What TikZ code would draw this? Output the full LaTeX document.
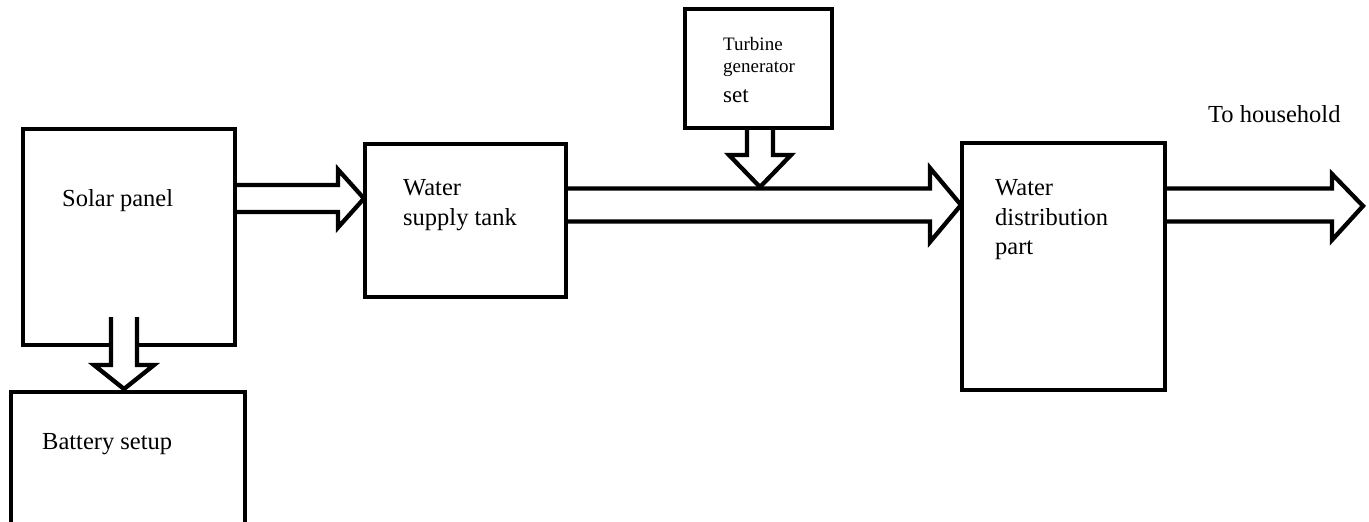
\documentclass[tikz,border=0pt]{standalone}
\usepackage{fontspec}
\setmainfont{Liberation Serif}
\begin{document}
\begin{tikzpicture}[x=1pt,y=-1pt,
  box/.style={draw=black,line width=4.3pt,fill=white,inner sep=0pt,outer sep=0pt},
  lbl/.style={inner sep=0pt,anchor=base west,font=\fontsize{24.5}{30}\selectfont},
  small/.style={inner sep=0pt,anchor=base west,font=\fontsize{19}{22}\selectfont},
  arrline/.style={draw=black,line width=4.3pt,line join=miter},
  arrfill/.style={fill=white}]
\useasboundingbox (0,0) rectangle (1369,522);

% boxes
\node[box,minimum width=212pt,minimum height=216pt] (solar) at (129,237) {};
\node[box,minimum width=234pt,minimum height=160pt] (battery) at (128,472) {};
\node[box,minimum width=201pt,minimum height=153pt] (tank) at (465.5,220.5) {};
\node[box,minimum width=147pt,minimum height=119pt] (turbine) at (758.5,68.5) {};
\node[box,minimum width=203pt,minimum height=247pt] (dist) at (1063.5,266.5) {};

% texts
\node[lbl] (tsolar) at (62,206) {Solar panel};
\node[lbl] (tbatt) at (42,449) {Battery setup};
\node[lbl] (ttank1) at (403,195) {Water};
\node[lbl] (ttank2) at (403,225) {supply tank};
\node[small] (tturb1) at (723,50) {Turbine};
\node[small] (tturb2) at (723,72) {generator};
\node[lbl,font=\fontsize{23}{28}\selectfont] (tturb3) at (723,102) {set};
\node[lbl] (tdist1) at (995,195) {Water};
\node[lbl] (tdist2) at (995,225) {distribution};
\node[lbl] (tdist3) at (995,254) {part};
\node[lbl] (thouse) at (1208,122) {To household};

% block arrow: solar -> tank
\fill[arrfill] (237,185) -- (338,185) -- (338,169.5) -- (363,198.5) -- (338,227.5) -- (338,212) -- (237,212) -- cycle;
\draw[arrline] (235,185) -- (338,185) -- (338,169.5) -- (364,198.5) -- (338,227.5) -- (338,212) -- (235,212);

% block arrow: solar -> battery
\fill[arrfill] (111,317) -- (111,365) -- (94,365) -- (124,388) -- (154,365) -- (137,365) -- (137,317) -- cycle;
\draw[arrline] (111,317) -- (111,365) -- (94,365) -- (124,389) -- (154,365) -- (137,365) -- (137,317);

% block arrow: tank -> distribution
\fill[arrfill] (568,188.5) -- (930,188.5) -- (930,168) -- (960,205) -- (930,242) -- (930,221.5) -- (568,221.5) -- cycle;
\draw[arrline] (566,188.5) -- (930,188.5) -- (930,168) -- (961,205) -- (930,242) -- (930,221.5) -- (566,221.5);

% block arrow: turbine -> main flow
\fill[arrfill] (747,130) -- (747,155) -- (729,155) -- (760,186) -- (791,155) -- (773,155) -- (773,130) -- cycle;
\draw[arrline] (747,128) -- (747,155) -- (729,155) -- (760,187) -- (791,155) -- (773,155) -- (773,128);

% block arrow: distribution -> household
\fill[arrfill] (1167,188.5) -- (1332,188.5) -- (1332,174) -- (1363,205) -- (1332,240) -- (1332,221.5) -- (1167,221.5) -- cycle;
\draw[arrline] (1165,188.5) -- (1332,188.5) -- (1332,174) -- (1363,206) -- (1332,240) -- (1332,221.5) -- (1165,221.5);
\end{tikzpicture}
\end{document}
